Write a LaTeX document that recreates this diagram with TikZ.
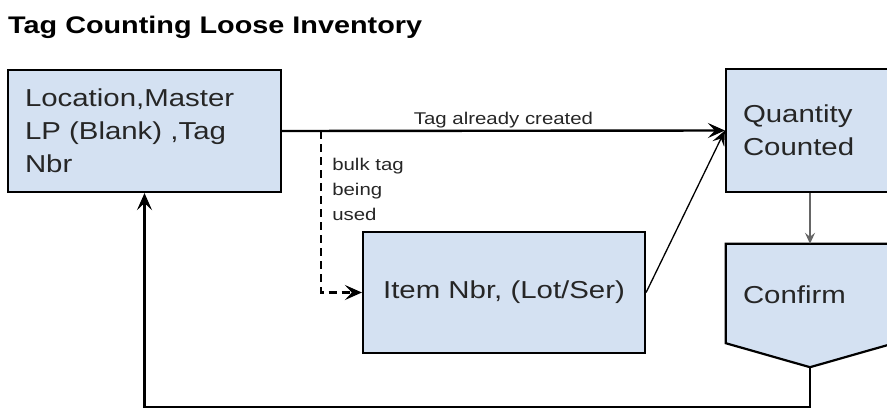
\documentclass[tikz,border=0pt]{standalone}
\usepackage{fontspec}
\setmainfont{Liberation Sans}[FakeStretch=1.2]
\usetikzlibrary{arrows.meta,positioning,calc}
\usepackage{xcolor}
\definecolor{cajaazul}{RGB}{212,225,242}

\begin{document}
\begin{tikzpicture}[
  x=1pt, y=-1pt,
  caja/.style={rectangle, draw, line width=2.2pt, fill=cajaazul, text=black!85, font=\fontsize{24.5}{33}\selectfont, inner ysep=0pt},
  etiqueta/.style={font=\fontsize{17}{25}\selectfont, text=black!85, inner sep=2pt},
  flecha/.style={-{Stealth[length=17pt, width=15pt, inset=7pt]}, line width=2.4pt},
  flechad/.style={flecha, dash pattern=on 8pt off 5pt},
  flechafina/.style={-{Stealth[length=15pt, width=13pt, inset=6pt]}, line width=1.3pt},
  flechagris/.style={-{Stealth[length=11pt, width=10pt, inset=4pt]}, line width=1.5pt, draw=black!60}
]
\useasboundingbox (0,0) rectangle (887,410);
\clip (0,0) rectangle (887,410);
\node[anchor=base west, inner sep=0pt, font=\fontsize{24}{28}\selectfont\bfseries] (titulo) at (8,33) {Tag Counting Loose Inventory};
\node[caja, minimum width=273pt, minimum height=122pt, text width=239pt, inner xsep=17pt, align=left] (loc) at (144.5,131) {Location,Master\\LP (Blank) ,Tag\\Nbr};
\node[caja, minimum width=168pt, minimum height=123pt, text width=134pt, inner xsep=17pt, align=left] (qty) at (810,130.5) {Quantity\\Counted};
\node[caja, minimum width=282pt, minimum height=121pt, align=center] (item) at (504,292.5) {Item Nbr, (Lot/Ser)};
% confirm: off-page shape
\node[minimum width=168pt, minimum height=99pt, inner sep=0pt] (conf) at (810,293.5) {};
\coordinate (punta) at ($(conf.south)+(0,24)$);
\draw[line width=2.2pt, fill=cajaazul] (conf.north west) -- (conf.north east) -- (conf.south east) -- (punta) -- (conf.south west) -- cycle;
\node[anchor=west, text=black!85, font=\fontsize{24.5}{33}\selectfont, inner sep=0pt] (conftxt) at ($(conf.west)+(17,1.5)$) {Confirm};
\coordinate (rama) at ($(loc.east)+(39,0)$);
\draw[flecha] (loc.east) -- node[etiqueta, above]{Tag already created} (qty.west);
\draw[flechad] (rama) |- node[etiqueta, pos=0.18, right=8pt, align=left]{bulk tag\\being\\used} (item.west);
\draw[flechafina] (item.east) -- (qty.west);
\draw[flechagris] (qty.south) -- (conf.north);
\draw[flecha] (punta) -- ++(0,40) -| (loc.south);
\end{tikzpicture}
\end{document}
